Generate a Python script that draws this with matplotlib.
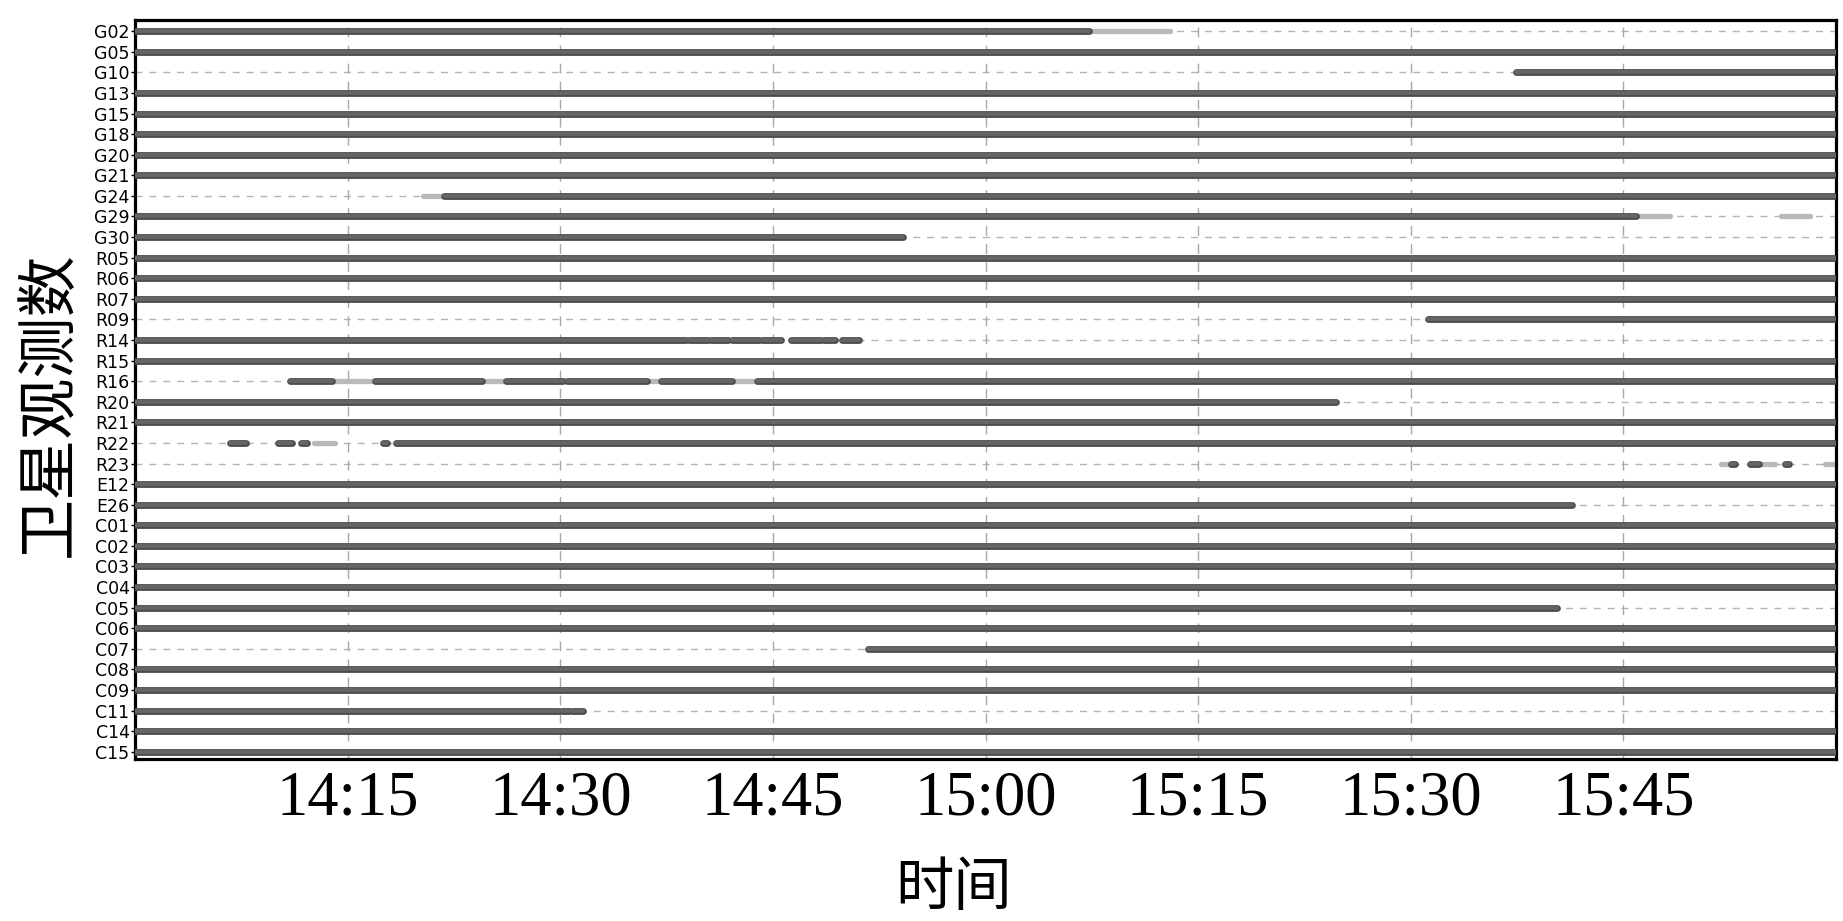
import numpy as np
import matplotlib.pyplot as plt

plt.rcParams['font.family'] = ['DejaVu Sans', 'Noto Sans CJK SC']

# satellites, top to bottom
sats = ['G02', 'G05', 'G10', 'G13', 'G15', 'G18', 'G20', 'G21', 'G24', 'G29', 'G30',
        'R05', 'R06', 'R07', 'R09', 'R14', 'R15', 'R16', 'R20', 'R21', 'R22', 'R23',
        'E12', 'E26', 'C01', 'C02', 'C03', 'C04', 'C05', 'C06', 'C07', 'C08', 'C09',
        'C11', 'C14', 'C15']

# observed arcs, minutes after 14:00
dark_sat = ['G02', 'G05', 'G10', 'G13', 'G15', 'G18', 'G20', 'G21', 'G24', 'G29', 'G30',
            'R05', 'R06', 'R07', 'R09',
            'R14', 'R14', 'R14', 'R14', 'R14', 'R14', 'R14', 'R14', 'R14', 'R14',
            'R15',
            'R16', 'R16', 'R16', 'R16', 'R16', 'R16',
            'R20', 'R21',
            'R22', 'R22', 'R22', 'R22', 'R22',
            'R23', 'R23', 'R23',
            'E12', 'E26', 'C01', 'C02', 'C03', 'C04', 'C05', 'C06', 'C07', 'C08', 'C09',
            'C11', 'C11', 'C11', 'C11', 'C14', 'C15']
dark_start = [0, 0, 97.4, 0, 0, 0, 0, 0, 21.8, 0, 0,
              0, 0, 0, 91.2,
              0, 33.9, 39.1, 40.6, 41.3, 42.1, 44.2, 46.3, 48.6, 49.9,
              0,
              10.9, 16.9, 26.2, 30.5, 37.1, 43.9,
              0, 0,
              6.7, 10.1, 11.7, 17.5, 18.4,
              112.6, 113.9, 116.4,
              0, 0, 0, 0, 0, 0, 0, 0, 51.7, 0, 0,
              0, 30.1, 30.8, 31.3, 0, 0]
dark_end = [67.3, 120, 120, 120, 120, 120, 120, 120, 120, 105.9, 54.2,
            120, 120, 120, 120,
            33.8, 38.9, 40.4, 41.2, 41.8, 44.0, 45.6, 48.4, 49.4, 51.1,
            120,
            13.9, 24.5, 30.2, 36.1, 42.1, 120,
            84.7, 120,
            7.8, 11.1, 12.1, 17.8, 120,
            112.9, 114.6, 116.7,
            120, 101.4, 120, 120, 120, 120, 100.3, 120, 120, 120, 120,
            29.9, 30.6, 31.2, 31.6, 120, 120]

# weak / low quality arcs
light_sat = ['G02', 'G24', 'G29', 'G29', 'R16', 'R16', 'R16', 'R16', 'R22',
             'R23', 'R23', 'R23']
light_start = [67.3, 20.3, 105.9, 116.1, 13.9, 24.5, 36.1, 42.1, 12.6,
               111.9, 114.6, 119.2]
light_end = [73.0, 21.8, 108.3, 118.2, 16.9, 26.2, 37.1, 43.9, 14.1,
             112.6, 115.7, 119.8]

x_ticks = [15, 30, 45, 60, 75, 90, 105]
x_labels = ['14:15', '14:30', '14:45', '15:00', '15:15', '15:30', '15:45']

row = {s: i for i, s in enumerate(sats)}

fig = plt.figure(figsize=(18.43, 9.21), dpi=100)
ax = fig.add_axes([0.0733, 0.176, 0.9229, 0.8024])

# dashed guide per satellite
for i in range(len(sats)):
    ax.axhline(i, color='#b4b4b4', lw=1.0, ls=(0, (5, 5)), zorder=1)
for xt in x_ticks:
    ax.axvline(xt, color='#a8a8a8', lw=1.0, ls=(0, (7, 6)), zorder=1)

ly = [row[s] for s in light_sat]
ax.hlines(ly, light_start, light_end, color='#b9b9b9', lw=3.8, capstyle='round', zorder=2)

dy = [row[s] for s in dark_sat]
ax.hlines(dy, dark_start, dark_end, color='#4c4c4c', lw=4.9, capstyle='round', zorder=3)
ax.hlines(dy, dark_start, dark_end, color='#656565', lw=2.8, capstyle='round', zorder=4)

ax.set_xlim(0, 120)
ax.set_ylim(35.35, -0.55)
ax.set_yticks(range(len(sats)))
ax.set_yticklabels(sats, fontsize=12.5)
ax.tick_params(axis='y', length=3, width=1, pad=1)
ax.set_xticks(x_ticks)
ax.set_xticklabels(x_labels, fontfamily='Liberation Serif', fontsize=45)
ax.tick_params(axis='x', length=0, pad=8)

for sp in ax.spines.values():
    sp.set_linewidth(2.3)
    sp.set_color('black')

ax.set_ylabel('卫星观测数', fontfamily=['Noto Sans CJK SC'], fontsize=44, va='center')
ax.yaxis.set_label_coords(-0.05, 0.48)
ax.set_xlabel('时间', fontfamily=['Noto Sans CJK SC'], fontsize=42, va='center')
ax.xaxis.set_label_coords(0.4815, -0.175)

fig.savefig('out.png', dpi=100)
